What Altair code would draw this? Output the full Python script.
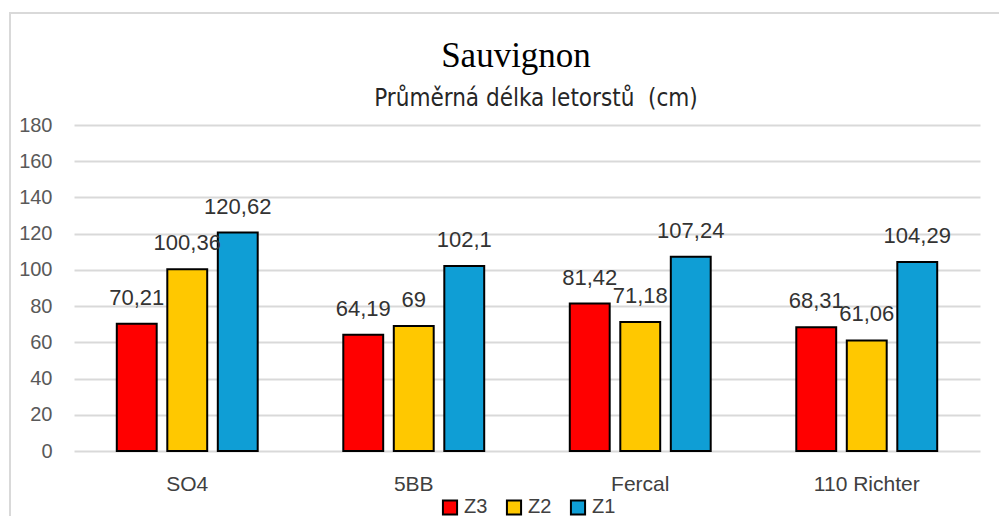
import altair as alt
import pandas as pd

categories = ["SO4", "5BB", "Fercal", "110 Richter"]
series = ["Z3", "Z2", "Z1"]
colors = ["#ff0000", "#ffc800", "#0f9ed5"]
z3 = [70.21, 64.19, 81.42, 68.31]
z2 = [100.36, 69, 71.18, 61.06]
z1 = [120.62, 102.1, 107.24, 104.29]
y_ticks = [0, 20, 40, 60, 80, 100, 120, 140, 160, 180]
title_text = "Sauvignon"
subtitle_text = "Průměrná délka letorstů\u00a0 (cm)"

rows = []
for i, c in enumerate(categories):
    for s, vals in zip(series, [z3, z2, z1]):
        v = vals[i]
        rows.append({"cat": c, "series": s, "value": v,
                     "label": (f"{v:g}").replace(".", ",")})
df = pd.DataFrame(rows)

x_enc = alt.X("cat:N", sort=categories, title=None,
              scale=alt.Scale(paddingInner=0.331, paddingOuter=0.1655),
              axis=alt.Axis(labelAngle=0, labelFont="Liberation Sans", labelFontSize=21,
                            labelColor="#404040", labelPadding=22, ticks=False,
                            domain=False, labelBaseline="top"))
xoff = alt.XOffset("series:N", sort=series,
                   scale=alt.Scale(paddingInner=0.21, paddingOuter=0.105))
y_enc = alt.Y("value:Q", title=None,
              scale=alt.Scale(domain=[0, 180], nice=False),
              axis=alt.Axis(values=y_ticks, labelFont="Liberation Sans", labelFontSize=20,
                            labelColor="#595959", labelPadding=22, ticks=False,
                            labelOverlap=False, domain=False, grid=True,
                            gridColor="#d9d9d9", gridWidth=2))

bars = alt.Chart(df).mark_bar(stroke="black", strokeWidth=2).encode(
    x=x_enc, xOffset=xoff, y=y_enc,
    color=alt.Color("series:N", sort=series,
                    scale=alt.Scale(domain=series, range=colors),
                    legend=alt.Legend(title=None, orient="none", direction="horizontal",
                                      legendX=366, legendY=372, symbolType="square",
                                      symbolSize=200, symbolStrokeColor="black",
                                      symbolStrokeWidth=2, labelFont="Liberation Sans",
                                      labelFontSize=20, labelColor="#404040",
                                      columnPadding=14, labelOffset=4, padding=0)),
)

labels = alt.Chart(df).mark_text(font="Liberation Sans", fontSize=22, color="#333333",
                                 baseline="alphabetic", dy=-19).encode(
    x=x_enc, xOffset=xoff, y=y_enc, text="label:N")

title = alt.Chart(pd.DataFrame({"t": [title_text]})).mark_text(
    font="Liberation Serif", fontSize=35, color="#000000", align="center",
    baseline="alphabetic").encode(x=alt.value(442), y=alt.value(-58), text="t:N")

subtitle = alt.Chart(pd.DataFrame({"t": [subtitle_text]})).mark_text(
    font="DejaVu Sans Condensed, Liberation Sans", fontSize=24, color="#262626",
    align="center", baseline="alphabetic").encode(
    x=alt.value(462), y=alt.value(-19), text="t:N")

border = alt.Chart(pd.DataFrame({"a": [0]})).mark_rect(
    fill=None, stroke="#d9d9d9", strokeWidth=2).encode(
    x=alt.value(-64), x2=alt.value(1100), y=alt.value(-112), y2=alt.value(600))

chart = alt.layer(border, bars, labels, title, subtitle).properties(
    width=906, height=326,
    autosize=alt.AutoSizeParams(type="none"),
    padding={"left": 66, "top": 117, "right": 19, "bottom": 65},
).configure_view(stroke=None)

chart.save("out.html", embed_options={"renderer": "svg", "actions": False})
